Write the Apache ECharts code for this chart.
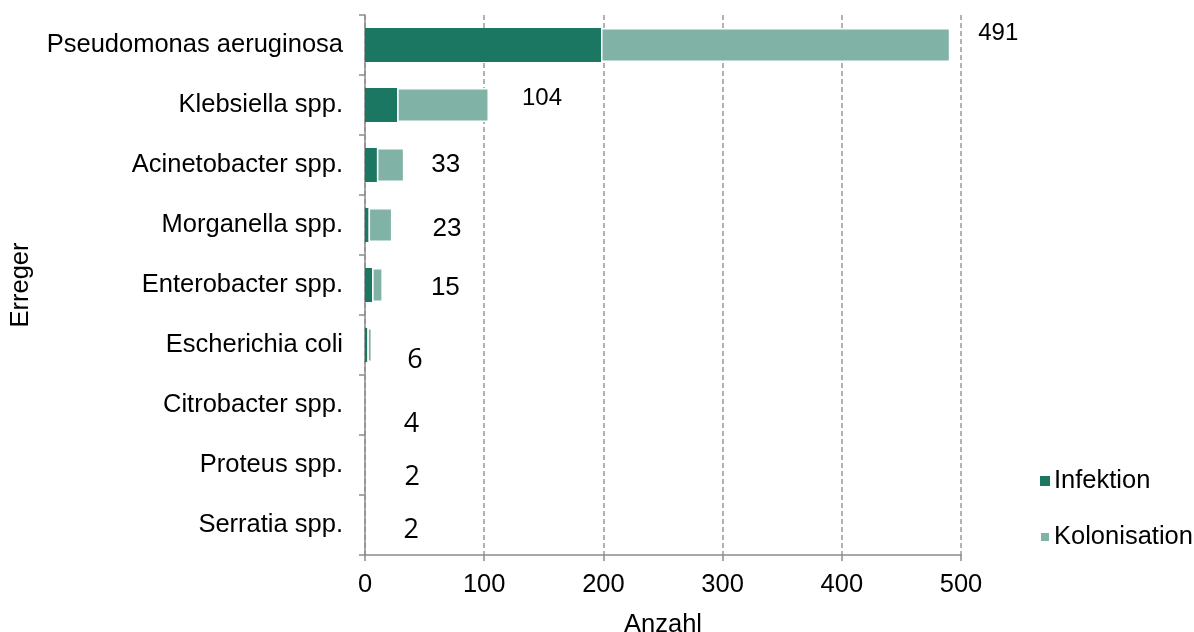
<!DOCTYPE html>
<html>
<head>
<meta charset="utf-8">
<script src="https://cdn.jsdelivr.net/npm/echarts@6/dist/echarts.min.js"></script>
<style>
  html, body { margin: 0; padding: 0; background: #ffffff; }
  #chart { width: 1194px; height: 632px; }
</style>
</head>
<body>
<div id="chart"></div>
<script>
// Erreger (pathogens), top to bottom
const categories = [
  'Pseudomonas aeruginosa',
  'Klebsiella spp.',
  'Acinetobacter spp.',
  'Morganella spp.',
  'Enterobacter spp.',
  'Escherichia coli',
  'Citrobacter spp.',
  'Proteus spp.',
  'Serratia spp.'
];
const infektion    = [198, 27, 10, 3, 6, 2, 0, 0, 0];
const kolonisation = [293, 77, 23, 20, 9, 4, 0, 0, 0];
const gesamt       = [491, 104, 33, 23, 15, 6, 4, 2, 2];
const xTicks = [0, 100, 200, 300, 400, 500];

// Placement of the total labels relative to the end of each bar [dx, dy]
const totalLabelOffsets = [
  [28, -12], [33, -7], [27, 0], [40, 4], [48, 3],
  [35, 15], [34, 19], [37, 12], [36, 5]
];
// Label typefaces: the upper totals in Arial-like sans, the last four in a humanist sans
const totalLabelStyles = gesamt.map((v, i) => {
  if (i < 2) return { fontFamily: 'Liberation Sans, Arial, sans-serif', fontSize: 24 };
  if (i < 5) return { fontFamily: 'Liberation Sans, Arial, sans-serif', fontSize: 26 };
  return { fontFamily: 'Open Sans, Noto Sans, sans-serif', fontSize: 27 };
});

// empty segments are left out so no outline is drawn over the axis
const skipZero = arr => arr.map(v => (v === 0 ? '-' : v));

const FONT = 'Liberation Sans, Arial, sans-serif';
const FS = 25.5;
const axisGray = '#8c8c8c';

const chart = echarts.init(document.getElementById('chart'), null, { renderer: 'canvas' });

chart.setOption({
  animation: false,
  backgroundColor: '#ffffff',
  grid: {
    left: 365, right: 233, top: 15, bottom: 77,
    containLabel: false,
    outerBoundsMode: 'none'
  },
  legend: {
    orient: 'vertical',
    left: 1034,
    top: 463,
    itemWidth: 10,
    itemHeight: 10,
    itemGap: 30,
    icon: 'rect',
    data: ['Infektion', 'Kolonisation'],
    textStyle: { fontFamily: FONT, fontSize: FS, color: '#000000', padding: [0, 0, 0, -1] }
  },
  xAxis: {
    type: 'value',
    min: xTicks[0],
    max: xTicks[xTicks.length - 1],
    interval: xTicks[1] - xTicks[0],
    name: 'Anzahl',
    nameLocation: 'middle',
    nameGap: 57,
    nameTextStyle: { fontFamily: FONT, fontSize: FS, color: '#000000' },
    axisLine: { show: true, lineStyle: { color: axisGray, width: 1.5 } },
    axisTick: { show: true, length: 6, lineStyle: { color: axisGray, width: 1.5 } },
    axisLabel: { fontFamily: FONT, fontSize: FS, color: '#000000', margin: 17 },
    splitLine: { show: true, lineStyle: { color: '#9a9a9a', width: 1.5, type: [5, 3] } }
  },
  yAxis: {
    type: 'category',
    data: categories,
    inverse: true,
    name: 'Erreger',
    nameLocation: 'middle',
    nameGap: 331,
    nameRotate: 90,
    nameTextStyle: { fontFamily: FONT, fontSize: FS, color: '#000000' },
    axisLine: { show: true, lineStyle: { color: axisGray, width: 1.5 } },
    axisTick: { show: true, length: 6, alignWithLabel: false, lineStyle: { color: axisGray, width: 1.5 } },
    axisLabel: { fontFamily: FONT, fontSize: FS, color: '#000000', margin: 22 },
    splitLine: { show: false }
  },
  series: [
    {
      name: 'Infektion',
      type: 'bar',
      stack: 'erreger',
      data: skipZero(infektion),
      barWidth: 34,
      itemStyle: { color: '#1b7762' }
    },
    {
      name: 'Kolonisation',
      type: 'bar',
      stack: 'erreger',
      data: skipZero(kolonisation),
      barWidth: 34,
      // white outline gives the thin gap between the two segments
      itemStyle: { color: '#80b3a6', borderColor: '#ffffff', borderWidth: 1.5 }
    },
    {
      name: 'Gesamt',
      type: 'bar',
      data: gesamt.map((v, i) => ({
        value: v,
        label: Object.assign({ offset: totalLabelOffsets[i] }, totalLabelStyles[i])
      })),
      barWidth: 34,
      barGap: '-100%',
      z: 1,
      silent: true,
      itemStyle: { color: 'rgba(0,0,0,0)' },
      label: {
        show: true,
        position: 'right',
        distance: 0,
        color: '#000000',
        formatter: '{c}'
      }
    }
  ]
});
</script>
</body>
</html>
